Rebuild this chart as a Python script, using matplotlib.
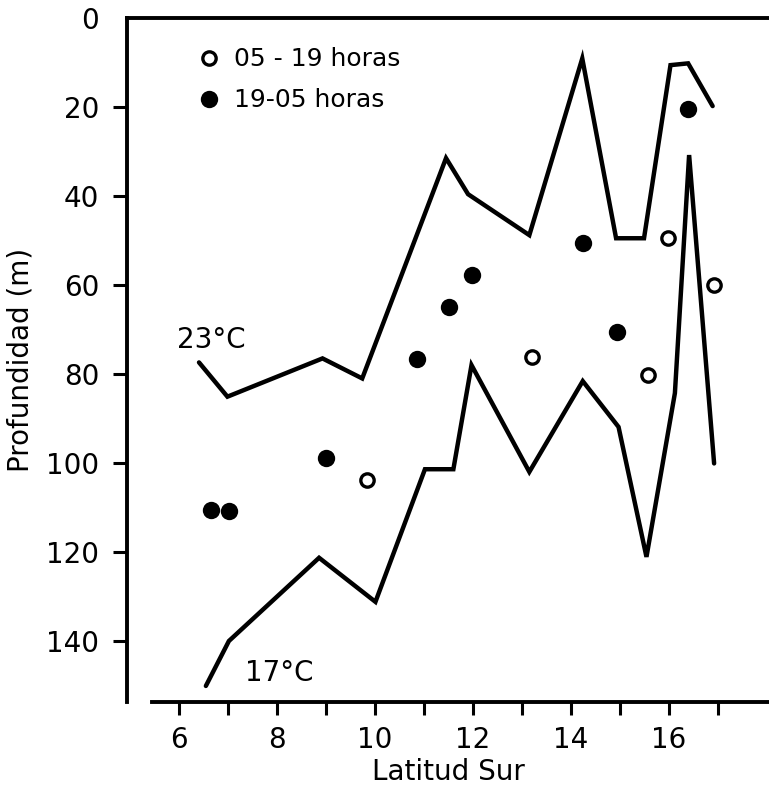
"""Profundidad de las isotermas de 23 y 17 C y de las capturas, por latitud."""

import matplotlib.pyplot as plt

# ---------------------------------------------------------------------------
# Data
# ---------------------------------------------------------------------------
# 23 C isotherm
lat_23 = [6.41, 6.99, 8.93, 9.74, 11.45, 11.90, 13.15, 14.23, 14.92, 15.49,
          16.03, 16.39, 16.89]
depth_23 = [77.5, 85.2, 76.6, 81.1, 31.6, 39.7, 48.9, 9.2, 49.6, 49.6,
            10.7, 10.3, 19.9]

# 17 C isotherm
lat_17 = [6.55, 7.02, 8.86, 10.01, 11.02, 11.60, 11.97, 13.15, 14.24, 14.97,
          15.54, 16.12, 16.41, 16.92]
depth_17 = [150.2, 140.1, 121.4, 131.3, 101.5, 101.5, 78.1, 102.1, 81.7, 92.0,
            121.2, 84.4, 30.9, 100.2]

# 05-19 horas (day)
lat_day = [9.83, 13.20, 15.58, 15.97, 16.92]
depth_day = [103.9, 76.2, 80.3, 49.6, 60.1]

# 19-05 horas (night)
lat_night = [6.65, 7.02, 9.00, 10.85, 11.52, 11.99, 14.24, 14.93, 16.39]
depth_night = [110.7, 110.9, 98.9, 76.8, 65.0, 57.9, 50.6, 70.7, 20.6]

x_ticks = list(range(6, 18))
x_labels = [str(v) if v % 2 == 0 else "" for v in x_ticks]
y_ticks = list(range(0, 141, 20))

plt.rcParams["font.family"] = ["DejaVu Sans"]

# ---------------------------------------------------------------------------
# Plot
# ---------------------------------------------------------------------------
fig = plt.figure(figsize=(7.69, 7.89), dpi=100)
ax = fig.add_axes([0.1651, 0.1103, 0.8349, 0.8675])

line_kw = dict(color="black", lw=3.2, solid_capstyle="round",
               solid_joinstyle="miter")
ax.plot(lat_23, depth_23, **line_kw)
ax.plot(lat_17, depth_17, **line_kw)

h_day, = ax.plot(lat_day, depth_day, "o", ms=9.6, mfc="white", mec="black",
                 mew=2.4, ls="none", label="05 - 19 horas")
h_night, = ax.plot(lat_night, depth_night, "o", ms=12.5, mfc="black",
                   mec="black", mew=0, ls="none", label="19-05 horas")

ax.text(5.96, 72.5, "23°C", fontsize=20, va="center", ha="left")
ax.text(7.35, 147.2, "17°C", fontsize=20, va="center", ha="left")

ax.legend(handles=[h_day, h_night], loc="upper left",
          bbox_to_anchor=(0.256, 0.940), bbox_transform=fig.transFigure,
          frameon=False, fontsize=18, handlelength=1.0, handletextpad=0.5,
          labelspacing=0.68, borderpad=0, borderaxespad=0)

ax.set_xlim(4.94, 18.04)
ax.set_ylim(153.8, 0)

ax.set_xticks(x_ticks)
ax.set_xticklabels(x_labels)
ax.set_yticks(y_ticks)
ax.tick_params(axis="both", direction="out", width=2.2, labelsize=20)
ax.tick_params(axis="x", length=9.5, pad=8)
ax.tick_params(axis="y", length=10, pad=10)
ax.yaxis.get_major_ticks()[0].tick1line.set_visible(False)

ax.set_xlabel("Latitud Sur", fontsize=20, labelpad=3)
ax.set_ylabel("Profundidad (m)", fontsize=20, labelpad=8)

for side in ("left", "top", "bottom"):
    ax.spines[side].set_linewidth(2.8)
ax.spines["right"].set_visible(False)
ax.spines["bottom"].set_bounds(5.45, 18.04)

fig.savefig("out.png", dpi=100)
